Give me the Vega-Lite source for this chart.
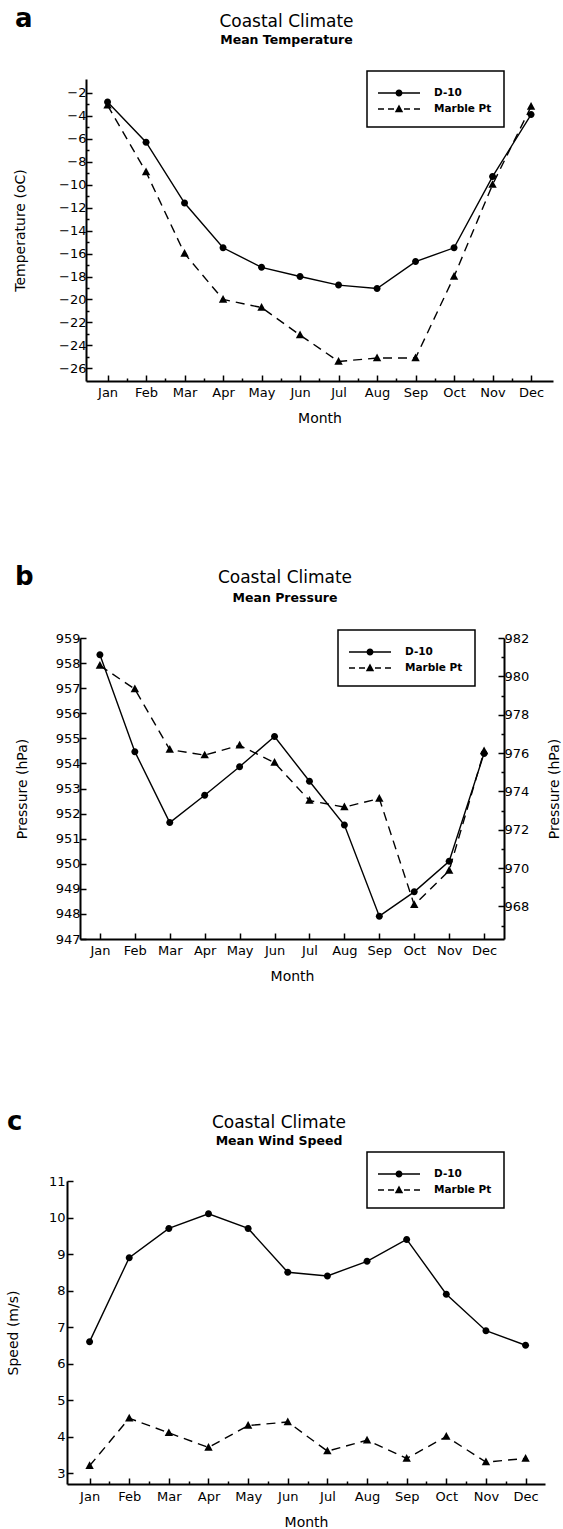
{
  "$schema": "https://vega.github.io/schema/vega-lite/v6.json",
  "padding": {"left": 0, "top": 6, "right": 0, "bottom": 0},
  "background": "white",
  "datasets": {
    "temp": [
      {"month": 1, "station": "D-10", "temperature": -2.8},
      {"month": 2, "station": "D-10", "temperature": -6.3},
      {"month": 3, "station": "D-10", "temperature": -11.6},
      {"month": 4, "station": "D-10", "temperature": -15.5},
      {"month": 5, "station": "D-10", "temperature": -17.2},
      {"month": 6, "station": "D-10", "temperature": -18.0},
      {"month": 7, "station": "D-10", "temperature": -18.75},
      {"month": 8, "station": "D-10", "temperature": -19.05},
      {"month": 9, "station": "D-10", "temperature": -16.7},
      {"month": 10, "station": "D-10", "temperature": -15.5},
      {"month": 11, "station": "D-10", "temperature": -9.3},
      {"month": 12, "station": "D-10", "temperature": -3.9},
      {"month": 1, "station": "Marble Pt", "temperature": -3.1},
      {"month": 2, "station": "Marble Pt", "temperature": -8.9},
      {"month": 3, "station": "Marble Pt", "temperature": -16.0},
      {"month": 4, "station": "Marble Pt", "temperature": -20.0},
      {"month": 5, "station": "Marble Pt", "temperature": -20.7},
      {"month": 6, "station": "Marble Pt", "temperature": -23.1},
      {"month": 7, "station": "Marble Pt", "temperature": -25.4},
      {"month": 8, "station": "Marble Pt", "temperature": -25.1},
      {"month": 9, "station": "Marble Pt", "temperature": -25.1},
      {"month": 10, "station": "Marble Pt", "temperature": -18.0},
      {"month": 11, "station": "Marble Pt", "temperature": -10.0},
      {"month": 12, "station": "Marble Pt", "temperature": -3.2}
    ],
    "pres": [
      {"month": 1, "station": "D-10", "pressure": 958.33},
      {"month": 2, "station": "D-10", "pressure": 954.47},
      {"month": 3, "station": "D-10", "pressure": 951.64},
      {"month": 4, "station": "D-10", "pressure": 952.73},
      {"month": 5, "station": "D-10", "pressure": 953.87},
      {"month": 6, "station": "D-10", "pressure": 955.07},
      {"month": 7, "station": "D-10", "pressure": 953.29},
      {"month": 8, "station": "D-10", "pressure": 951.54},
      {"month": 9, "station": "D-10", "pressure": 947.91},
      {"month": 10, "station": "D-10", "pressure": 948.88},
      {"month": 11, "station": "D-10", "pressure": 950.1},
      {"month": 12, "station": "D-10", "pressure": 954.4},
      {"month": 1, "station": "Marble Pt", "pressure": 980.56},
      {"month": 2, "station": "Marble Pt", "pressure": 979.34},
      {"month": 3, "station": "Marble Pt", "pressure": 976.18},
      {"month": 4, "station": "Marble Pt", "pressure": 975.89},
      {"month": 5, "station": "Marble Pt", "pressure": 976.4},
      {"month": 6, "station": "Marble Pt", "pressure": 975.5},
      {"month": 7, "station": "Marble Pt", "pressure": 973.52},
      {"month": 8, "station": "Marble Pt", "pressure": 973.18},
      {"month": 9, "station": "Marble Pt", "pressure": 973.63},
      {"month": 10, "station": "Marble Pt", "pressure": 968.08},
      {"month": 11, "station": "Marble Pt", "pressure": 969.87},
      {"month": 12, "station": "Marble Pt", "pressure": 976.1}
    ],
    "wind": [
      {"month": 1, "station": "D-10", "speed": 6.6},
      {"month": 2, "station": "D-10", "speed": 8.9},
      {"month": 3, "station": "D-10", "speed": 9.7},
      {"month": 4, "station": "D-10", "speed": 10.1},
      {"month": 5, "station": "D-10", "speed": 9.7},
      {"month": 6, "station": "D-10", "speed": 8.5},
      {"month": 7, "station": "D-10", "speed": 8.4},
      {"month": 8, "station": "D-10", "speed": 8.8},
      {"month": 9, "station": "D-10", "speed": 9.4},
      {"month": 10, "station": "D-10", "speed": 7.9},
      {"month": 11, "station": "D-10", "speed": 6.9},
      {"month": 12, "station": "D-10", "speed": 6.5},
      {"month": 1, "station": "Marble Pt", "speed": 3.2},
      {"month": 2, "station": "Marble Pt", "speed": 4.5},
      {"month": 3, "station": "Marble Pt", "speed": 4.1},
      {"month": 4, "station": "Marble Pt", "speed": 3.7},
      {"month": 5, "station": "Marble Pt", "speed": 4.3},
      {"month": 6, "station": "Marble Pt", "speed": 4.4},
      {"month": 7, "station": "Marble Pt", "speed": 3.6},
      {"month": 8, "station": "Marble Pt", "speed": 3.9},
      {"month": 9, "station": "Marble Pt", "speed": 3.4},
      {"month": 10, "station": "Marble Pt", "speed": 4.0},
      {"month": 11, "station": "Marble Pt", "speed": 3.3},
      {"month": 12, "station": "Marble Pt", "speed": 3.4}
    ]
  },
  "config": {
    "font": "DejaVu Sans",
    "view": {"stroke": null},
    "axis": {
      "domainColor": "black", "domainWidth": 2, "tickColor": "black", "tickWidth": 1.5,
      "labelColor": "black", "titleColor": "black", "labelFontSize": 13, "titleFontSize": 14,
      "titleFontWeight": "normal", "grid": false, "labelFont": "DejaVu Sans", "titleFont": "DejaVu Sans",
      "tickSize": -6, "labelFlush": false, "labelOverlap": false
    },
    "legend": {
      "strokeColor": "black", "fillColor": "white", "strokeWidth": 1.5, "padding": 12, "rowPadding": -6,
      "symbolOffset": 10, "labelOffset": 25, "symbolSize": 400, "symbolStrokeWidth": 0,
      "symbolFillColor": "black", "labelFontSize": 10.5,
      "labelFontWeight": "bold", "labelColor": "black", "labelFont": "DejaVu Sans"
    },
    "title": {"color": "black", "subtitleColor": "black", "fontWeight": "normal", "fontSize": 17, "subtitleFontSize": 12.5, "subtitleFontWeight": "bold", "subtitlePadding": 3, "font": "DejaVu Sans", "subtitleFont": "DejaVu Sans"}
  },
  "spacing": 125,
  "resolve": {"scale": {"shape": "independent"}, "legend": {"shape": "independent"}},
  "vconcat": [
    {
      "spacing": 139,
      "resolve": {"scale": {"shape": "independent"}, "legend": {"shape": "independent"}},
      "vconcat": [
        {
          "title": {"text": "a", "anchor": "start", "frame": "bounds", "fontSize": 26, "fontWeight": "bold", "offset": -19.3, "dx": 15},
          "spacing": 0,
          "resolve": {"scale": {"shape": "independent"}, "legend": {"shape": "independent"}},
          "hconcat": [
            {"width": 13, "height": 10, "data": {"values": []}, "mark": {"type": "point", "opacity": 0}},
            {
              "width": 467, "height": 302,
              "title": {"text": "Coastal Climate", "subtitle": "Mean Temperature", "anchor": "middle", "dx": -33, "offset": 22.6},
              "data": {"name": "temp"},
              "encoding": {
                "x": {"field": "month", "type": "quantitative", "scale": {"domain": [0.44, 12.57], "nice": false, "zero": false},
                  "axis": {"title": "Month", "values": [1,1.5,2,2.5,3,3.5,4,4.5,5,5.5,6,6.5,7,7.5,8,8.5,9,9.5,10,10.5,11,11.5,12],
                    "labelExpr": "datum.value % 1 === 0 ? ['Jan','Feb','Mar','Apr','May','Jun','Jul','Aug','Sep','Oct','Nov','Dec'][datum.value - 1] : ''",
                    "tickDash": {"condition": {"test": "datum.value % 1 !== 0", "value": [3, 20]}, "value": [6, 0]},
                    "labelPadding": 11, "titlePadding": 12}},
                "y": {"field": "temperature", "type": "quantitative", "scale": {"domain": [-27.1, -0.8], "nice": false, "zero": false},
                  "axis": {"title": "Temperature (oC)", "values": [-26,-25,-24,-23,-22,-21,-20,-19,-18,-17,-16,-15,-14,-13,-12,-11,-10,-9,-8,-7,-6,-5,-4,-3,-2],
                    "labelExpr": "datum.value % 2 === 0 ? datum.label : ''",
                    "tickDash": {"condition": {"test": "datum.value % 2 !== 0", "value": [3, 20]}, "value": [6, 0]},
                    "labelPadding": 6, "titlePadding": 31}}
              },
              "layer": [
                {"transform": [{"filter": "false"}],
                 "mark": {"type": "point", "filled": true, "color": "black", "opacity": 1, "size": 400},
                 "encoding": {
                   "shape": {"field": "station", "type": "nominal", "scale": {"domain": ["D-10", "Marble Pt"], "range": ["M-2.1,-0.07H-0.34V0.07H-2.1Z M0.34,-0.07H2.1V0.07H0.34Z M0.35,0A0.35,0.35,0,1,1,-0.35,0A0.35,0.35,0,1,1,0.35,0Z", "M-2.1,-0.07H-1.5V0.07H-2.1Z M-1.1,-0.07H-0.5V0.07H-1.1Z M0.5,-0.07H1.1V0.07H0.5Z M1.5,-0.07H2.1V0.07H1.5Z M0,-0.45L0.42,0.32L-0.42,0.32Z"]},
                     "legend": {"orient": "none", "legendX": 281, "legendY": -8, "title": null}}
                 }},
                {"transform": [{"filter": "datum.station === 'D-10'"}],
                 "mark": {"type": "line", "color": "black", "strokeWidth": 1.4}},
                {"transform": [{"filter": "datum.station === 'Marble Pt'"}],
                 "mark": {"type": "line", "color": "black", "strokeWidth": 1.4, "strokeDash": [9, 6]}},
                {"transform": [{"filter": "datum.station === 'D-10'"}],
                 "mark": {"type": "point", "filled": true, "color": "black", "opacity": 1, "size": 400, "shape": "M0.35,0A0.35,0.35,0,1,1,-0.35,0A0.35,0.35,0,1,1,0.35,0Z"}},
                {"transform": [{"filter": "datum.station === 'Marble Pt'"}],
                 "mark": {"type": "point", "filled": true, "color": "black", "opacity": 1, "size": 400, "shape": "M0,-0.45L0.42,0.32L-0.42,0.32Z"}}
              ]
            }
          ]
        },
        {
          "title": {"text": "b", "anchor": "start", "frame": "bounds", "fontSize": 26, "fontWeight": "bold", "offset": -21, "dx": 15},
          "spacing": 0,
          "resolve": {"scale": {"shape": "independent"}, "legend": {"shape": "independent"}},
          "hconcat": [
            {"width": 14.5, "height": 10, "data": {"values": []}, "mark": {"type": "point", "opacity": 0}},
            {
              "width": 424, "height": 301,
              "title": {"text": "Coastal Climate", "subtitle": "Mean Pressure", "subtitlePadding": 5, "anchor": "middle", "dx": -7, "offset": 23.5},
              "data": {"name": "pres"},
              "encoding": {
                "x": {"field": "month", "type": "quantitative", "scale": {"domain": [0.43, 12.57], "nice": false, "zero": false},
                  "axis": {"title": "Month", "values": [1,2,3,4,5,6,7,8,9,10,11,12],
                    "labelExpr": "['Jan','Feb','Mar','Apr','May','Jun','Jul','Aug','Sep','Oct','Nov','Dec'][datum.value - 1]",
                    "labelPadding": 11, "titlePadding": 12}}
              },
              "layer": [
                {
                  "transform": [{"filter": "datum.station === 'D-10'"}],
                  "encoding": {
                    "y": {"field": "pressure", "type": "quantitative", "scale": {"domain": [947, 959], "nice": false, "zero": false},
                      "axis": {"title": "Pressure (hPa)", "format": "d", "values": [947,947.5,948,948.5,949,949.5,950,950.5,951,951.5,952,952.5,953,953.5,954,954.5,955,955.5,956,956.5,957,957.5,958,958.5,959],
                        "labelExpr": "datum.value % 1 === 0 ? datum.label : ''",
                        "tickDash": {"condition": {"test": "datum.value % 1 !== 0", "value": [3, 20]}, "value": [6, 0]},
                        "labelPadding": 6, "titlePadding": 25.5}}
                  },
                  "layer": [
                    {"transform": [{"filter": "false"}],
                     "mark": {"type": "point", "filled": true, "color": "black", "opacity": 1, "size": 400},
                     "encoding": {
                       "shape": {"field": "station", "type": "nominal", "scale": {"domain": ["D-10", "Marble Pt"], "range": ["M-2.1,-0.07H-0.34V0.07H-2.1Z M0.34,-0.07H2.1V0.07H0.34Z M0.35,0A0.35,0.35,0,1,1,-0.35,0A0.35,0.35,0,1,1,0.35,0Z", "M-2.1,-0.07H-1.5V0.07H-2.1Z M-1.1,-0.07H-0.5V0.07H-1.1Z M0.5,-0.07H1.1V0.07H0.5Z M1.5,-0.07H2.1V0.07H1.5Z M0,-0.45L0.42,0.32L-0.42,0.32Z"]},
                         "legend": {"orient": "none", "legendX": 258, "legendY": -8, "title": null}}
                     }},
                    {"mark": {"type": "line", "color": "black", "strokeWidth": 1.4}},
                    {"mark": {"type": "point", "filled": true, "color": "black", "opacity": 1, "size": 400, "shape": "M0.35,0A0.35,0.35,0,1,1,-0.35,0A0.35,0.35,0,1,1,0.35,0Z"}}
                  ]
                },
                {
                  "transform": [{"filter": "datum.station === 'Marble Pt'"}],
                  "encoding": {
                    "y": {"field": "pressure", "type": "quantitative", "scale": {"domain": [966.3, 982], "nice": false, "zero": false},
                      "axis": {"orient": "right", "title": "Pressure (hPa)", "titleAngle": 270, "titleBaseline": "top", "format": "d", "values": [966,967,968,969,970,971,972,973,974,975,976,977,978,979,980,981,982],
                        "labelExpr": "datum.value % 2 === 0 ? datum.label : ''",
                        "tickDash": {"condition": {"test": "datum.value % 2 !== 0", "value": [3, 20]}, "value": [6, 0]},
                        "labelPadding": 6, "titlePadding": 19}}
                  },
                  "layer": [
                    {"mark": {"type": "line", "color": "black", "strokeWidth": 1.4, "strokeDash": [9, 6]}},
                    {"mark": {"type": "point", "filled": true, "color": "black", "opacity": 1, "size": 400, "shape": "M0,-0.45L0.42,0.32L-0.42,0.32Z"}}
                  ]
                }
              ],
              "resolve": {"scale": {"y": "independent"}}
            }
          ]
        }
      ]
    },
    {
      "title": {"text": "c", "anchor": "start", "frame": "bounds", "fontSize": 26, "fontWeight": "bold", "offset": -21, "dx": 7},
      "spacing": 0,
      "resolve": {"scale": {"shape": "independent"}, "legend": {"shape": "independent"}},
      "hconcat": [
        {"width": 5.6, "height": 10, "data": {"values": []}, "mark": {"type": "point", "opacity": 0}},
        {
          "width": 478, "height": 303,
          "title": {"text": "Coastal Climate", "subtitle": "Mean Wind Speed", "anchor": "middle", "dx": -27, "offset": 3},
          "data": {"name": "wind"},
          "encoding": {
            "x": {"field": "month", "type": "quantitative", "scale": {"domain": [0.43, 12.49], "nice": false, "zero": false},
              "axis": {"title": "Month", "values": [1,1.5,2,2.5,3,3.5,4,4.5,5,5.5,6,6.5,7,7.5,8,8.5,9,9.5,10,10.5,11,11.5,12],
                "labelExpr": "datum.value % 1 === 0 ? ['Jan','Feb','Mar','Apr','May','Jun','Jul','Aug','Sep','Oct','Nov','Dec'][datum.value - 1] : ''",
                "tickDash": {"condition": {"test": "datum.value % 1 !== 0", "value": [3, 20]}, "value": [6, 0]},
                "labelPadding": 12, "titlePadding": 12}},
            "y": {"field": "speed", "type": "quantitative", "scale": {"domain": [2.7, 11], "nice": false, "zero": false},
              "axis": {"title": "Speed (m/s)", "format": "d", "values": [3,3.5,4,4.5,5,5.5,6,6.5,7,7.5,8,8.5,9,9.5,10,10.5,11],
                "labelExpr": "datum.value % 1 === 0 ? datum.label : ''",
                "tickDash": {"condition": {"test": "datum.value % 1 !== 0", "value": [3, 20]}, "value": [6, 0]},
                "labelPadding": 8, "titlePadding": 27.7}}
          },
          "layer": [
            {"transform": [{"filter": "false"}],
             "mark": {"type": "point", "filled": true, "color": "black", "opacity": 1, "size": 400},
             "encoding": {
               "shape": {"field": "station", "type": "nominal", "scale": {"domain": ["D-10", "Marble Pt"], "range": ["M-2.1,-0.07H-0.34V0.07H-2.1Z M0.34,-0.07H2.1V0.07H0.34Z M0.35,0A0.35,0.35,0,1,1,-0.35,0A0.35,0.35,0,1,1,0.35,0Z", "M-2.1,-0.07H-1.5V0.07H-2.1Z M-1.1,-0.07H-0.5V0.07H-1.1Z M0.5,-0.07H1.1V0.07H0.5Z M1.5,-0.07H2.1V0.07H1.5Z M0,-0.45L0.42,0.32L-0.42,0.32Z"]},
                 "legend": {"orient": "none", "legendX": 300, "legendY": -29, "title": null}}
             }},
            {"transform": [{"filter": "datum.station === 'D-10'"}],
             "mark": {"type": "line", "color": "black", "strokeWidth": 1.4}},
            {"transform": [{"filter": "datum.station === 'Marble Pt'"}],
             "mark": {"type": "line", "color": "black", "strokeWidth": 1.4, "strokeDash": [9, 6]}},
            {"transform": [{"filter": "datum.station === 'D-10'"}],
             "mark": {"type": "point", "filled": true, "color": "black", "opacity": 1, "size": 400, "shape": "M0.35,0A0.35,0.35,0,1,1,-0.35,0A0.35,0.35,0,1,1,0.35,0Z"}},
            {"transform": [{"filter": "datum.station === 'Marble Pt'"}],
             "mark": {"type": "point", "filled": true, "color": "black", "opacity": 1, "size": 400, "shape": "M0,-0.45L0.42,0.32L-0.42,0.32Z"}}
          ]
        }
      ]
    }
  ]
}
